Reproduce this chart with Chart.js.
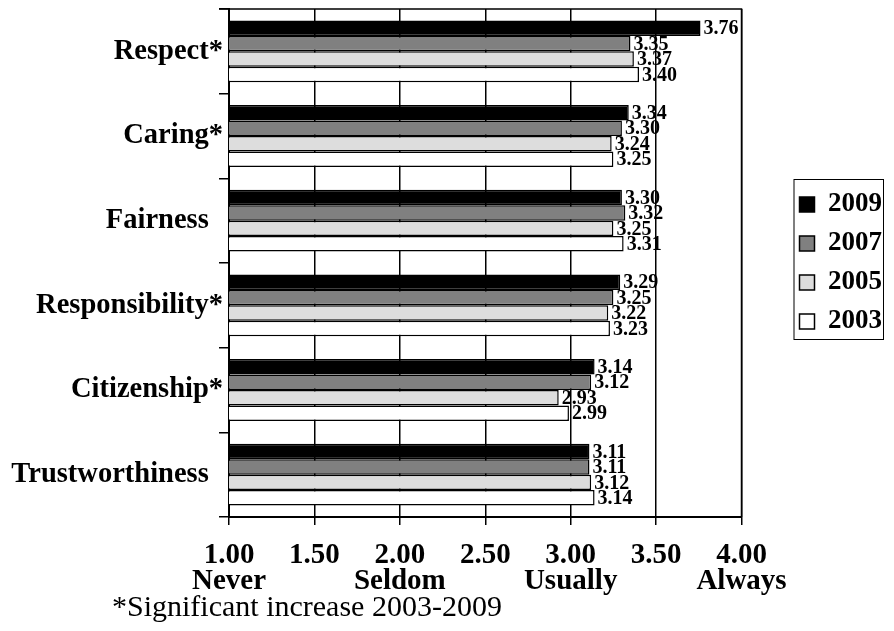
<!DOCTYPE html>
<html>
<head>
<meta charset="utf-8">
<script src="https://cdn.jsdelivr.net/npm/chart.js@4.4.1/dist/chart.umd.min.js"></script>
<style>
    html, body { margin: 0; padding: 0; background: #fff; }
    #caixa { position: relative; width: 894px; height: 631px; }
    #nota {
        position: absolute; left: 112px; top: 589px;
        font: 30px "Liberation Serif", "Times New Roman", serif;
        color: #000; white-space: nowrap;
    }
</style>
</head>
<body>
<div id="caixa">
    <canvas id="grafico" width="894" height="631"></canvas>
    <div id="nota">*Significant increase 2003-2009</div>
</div>
<script>
const categorias = ["Respect*", "Caring*", "Fairness", "Responsibility*", "Citizenship*", "Trustworthiness"];
const anos = ["2009", "2007", "2005", "2003"];
const valores2009 = [3.76, 3.34, 3.30, 3.29, 3.14, 3.11];
const valores2007 = [3.35, 3.30, 3.32, 3.25, 3.12, 3.11];
const valores2005 = [3.37, 3.24, 3.25, 3.22, 2.93, 3.12];
const valores2003 = [3.40, 3.25, 3.31, 3.23, 2.99, 3.14];
const ticksX = ["1.00", "1.50", "2.00", "2.50", "3.00", "3.50", "4.00"];
const rotulosX = ["Never", "", "Seldom", "", "Usually", "", "Always"];

const cores = ["#000000", "#808080", "#dddddd", "#ffffff"];
const serif = "'Liberation Serif', 'Times New Roman', serif";

// rótulos de valor no fim de cada barra
const rotulosValor = {
    id: "rotulosValor",
    afterDatasetsDraw(chart) {
        const ctx = chart.ctx;
        ctx.save();
        ctx.font = `bold 20px ${serif}`;
        ctx.fillStyle = "#000";
        ctx.textAlign = "left";
        ctx.textBaseline = "middle";
        chart.data.datasets.forEach((ds, i) => {
            chart.getDatasetMeta(i).data.forEach((bar, j) => {
                ctx.fillText(Number(ds.data[j]).toFixed(2), bar.x + 3, bar.y + 1);
            });
        });
        ctx.restore();
    }
};

// moldura da área do gráfico e da legenda
const moldura = {
    id: "moldura",
    afterDraw(chart) {
        const ctx = chart.ctx;
        const a = chart.chartArea;
        ctx.save();
        ctx.strokeStyle = "#000";
        ctx.lineWidth = 1.5;
        ctx.beginPath();
        ctx.moveTo(a.left - 10, a.top);
        ctx.lineTo(a.right, a.top);
        ctx.lineTo(a.right, a.bottom);
        ctx.stroke();
        const caixas = chart.legend.legendHitBoxes;
        if (caixas && caixas.length) {
            const esq = Math.min(...caixas.map(b => b.left)) - 6;
            const dir = Math.max(...caixas.map(b => b.left + b.width)) + 1;
            const topo = caixas[0].top - 12;
            const base = caixas[caixas.length - 1].top + caixas[caixas.length - 1].height + 4;
            ctx.lineWidth = 1;
            ctx.strokeRect(esq + 0.5, topo + 0.5, dir - esq, base - topo);
        }
        ctx.restore();
    }
};

new Chart(document.getElementById("grafico"), {
    type: "bar",
    data: {
        labels: categorias,
        datasets: [
            { label: anos[0], data: valores2009, backgroundColor: cores[0] },
            { label: anos[1], data: valores2007, backgroundColor: cores[1] },
            { label: anos[2], data: valores2005, backgroundColor: cores[2] },
            { label: anos[3], data: valores2003, backgroundColor: cores[3] }
        ].map(ds => ({
            ...ds,
            borderColor: "#000",
            borderWidth: 1.5,
            borderSkipped: false,
            barPercentage: 1,
            categoryPercentage: 0.73
        }))
    },
    options: {
        indexAxis: "y", // barras horizontais
        responsive: false,
        animation: false,
        devicePixelRatio: 1,
        layout: { padding: { top: 9, bottom: 25, left: 0, right: 2 } },
        plugins: {
            legend: {
                position: "right",
                fullSize: false,
                labels: {
                    color: "#000",
                    font: { family: serif, size: 27, weight: "bold" },
                    boxWidth: 15,
                    boxHeight: 15,
                    padding: 12
                }
            },
            tooltip: { enabled: false }
        },
        scales: {
            x: {
                type: "linear",
                min: 1,
                max: 4,
                afterBuildTicks: s => { s.ticks = ticksX.map(t => ({ value: Number(t) })); },
                afterFit: s => { s.height = 89; },
                ticks: {
                    color: "#000",
                    padding: 18,
                    maxRotation: 0,
                    minRotation: 0,
                    autoSkip: false,
                    font: { family: serif, size: 29, weight: "bold", lineHeight: 0.88 },
                    callback: (val, i) => rotulosX[i] ? [ticksX[i], rotulosX[i]] : ticksX[i]
                },
                grid: { color: "#000", lineWidth: 1.5, tickLength: 8 },
                border: { color: "#000", width: 2 }
            },
            y: {
                afterFit: s => { s.width = 229; s.paddingTop = 0; s.paddingBottom = 0; },
                ticks: {
                    color: "#000",
                    padding: -4,
                    font: { family: serif, size: 28.5, weight: "bold" },
                    // sem asterisco: espaço da mesma largura
                    callback: (val, i) => categorias[i].endsWith("*") ? categorias[i] : categorias[i] + "\u2002"
                },
                grid: { drawOnChartArea: false, color: "#000", lineWidth: 1.5, tickLength: 10 },
                border: { color: "#000", width: 2 }
            },
            folga: {
                type: "category",
                position: "right",
                afterFit: s => { s.width = 46; s.paddingTop = 0; s.paddingBottom = 0; },
                ticks: { display: false },
                grid: { display: false },
                border: { display: false }
            }
        }
    },
    plugins: [rotulosValor, moldura]
});
</script>
</body>
</html>
